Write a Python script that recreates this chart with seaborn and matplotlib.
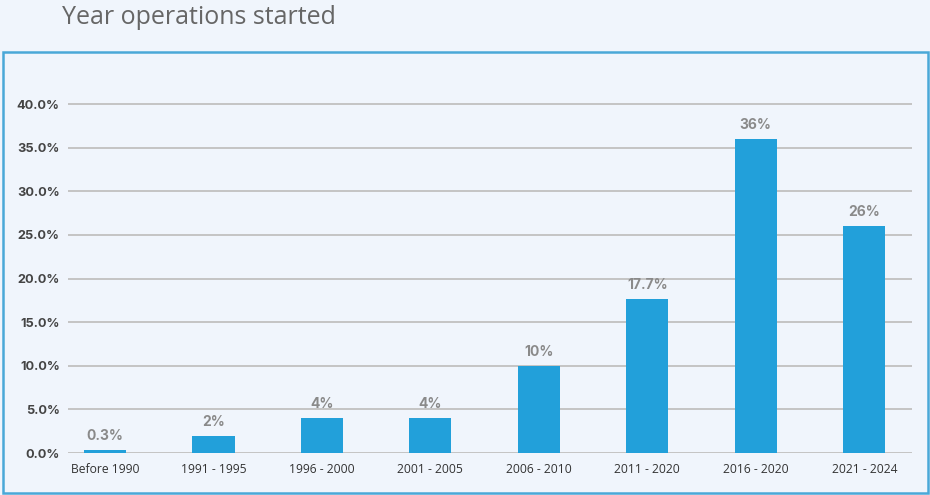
import matplotlib
matplotlib.use("Agg")
import matplotlib.pyplot as plt
from matplotlib.patches import Rectangle
from matplotlib.ticker import FuncFormatter
import seaborn as sns
import pandas as pd

categories = ["Before 1990", "1991 - 1995", "1996 - 2000", "2001 - 2005",
              "2006 - 2010", "2011 - 2020", "2016 - 2020", "2021 - 2024"]
shares = [0.3, 2, 4, 4, 10, 17.7, 36, 26]
y_ticks = [0, 5, 10, 15, 20, 25, 30, 35, 40]

bg = "#F0F5FC"
bar_color = "#22A0DA"

sns.set_theme(style="white")
plt.rcParams["font.family"] = ["Open Sans", "DejaVu Sans"]

fig = plt.figure(figsize=(9.3, 4.95), dpi=100, facecolor=bg)
ax = fig.add_axes([68 / 930, 42 / 495, 844 / 930, 357.7 / 495])
ax.set_facecolor(bg)

df = pd.DataFrame({"period": categories, "share": shares})
sns.barplot(data=df, x="period", y="share", color=bar_color, saturation=1,
            width=0.39, linewidth=0, ax=ax, zorder=3)

ax.set_xlim(-0.34, 7.44)
ax.set_ylim(0, 41)
ax.set_yticks(y_ticks)
ax.yaxis.set_major_formatter(FuncFormatter(lambda v, _: f"{v:.1f}%"))
ax.grid(axis="y", color="#C4C4C4", linewidth=1.4, zorder=0)
ax.grid(axis="x", visible=False)
for s in ax.spines.values():
    s.set_visible(False)
ax.set_xlabel("")
ax.set_ylabel("")
ax.tick_params(axis="y", length=0, pad=6)
ax.tick_params(axis="x", length=0, pad=7)
for lbl in ax.get_yticklabels():
    lbl.set_fontfamily(["Inter", "DejaVu Sans"])
    lbl.set_fontweight("bold")
    lbl.set_fontsize(9.2)
    lbl.set_color("#444444")
for lbl in ax.get_xticklabels():
    lbl.set_fontsize(8.7)
    lbl.set_color("#333333")

for cont in ax.containers:
    ax.bar_label(cont, labels=[f"{v:g}%" for v in shares], padding=5,
                 fontsize=10, fontweight="bold", color="#8A8A8A",
                 family=["Inter", "DejaVu Sans"])

fig.text(62 / 930, 1 - 17 / 495, "Year operations started", fontsize=18,
         color="#666666", va="center", ha="left")

fig.patches.append(Rectangle((3 / 930, 2 / 495), 925 / 930, 441 / 495,
                             transform=fig.transFigure, fill=False,
                             edgecolor="#4AA8D8", linewidth=1.8))

fig.savefig("out.png", dpi=100, facecolor=bg)
